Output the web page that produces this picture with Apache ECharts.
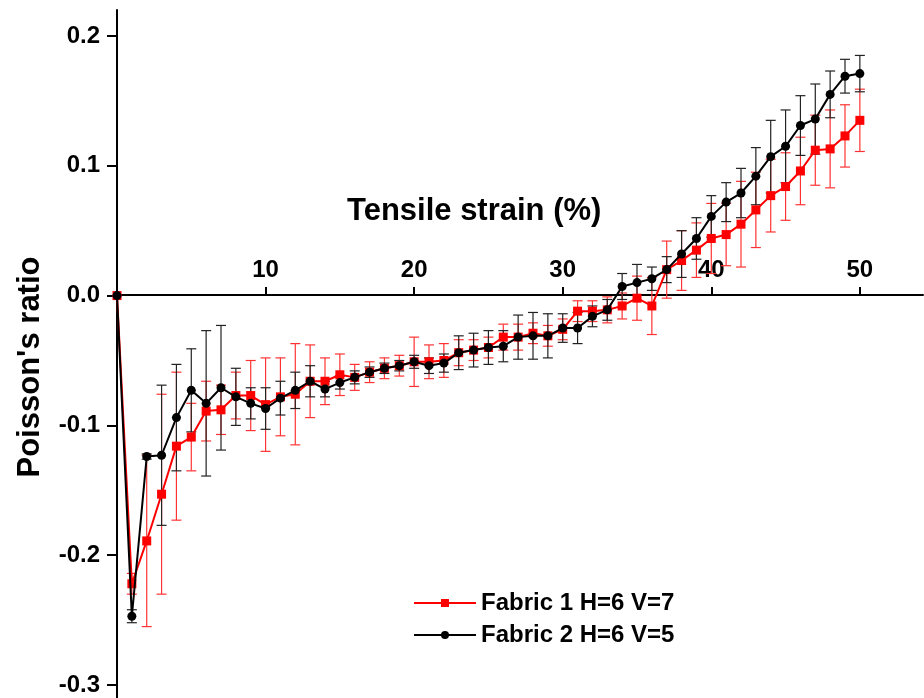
<!DOCTYPE html>
<html>
<head>
<meta charset="utf-8">
<script src="https://cdn.jsdelivr.net/npm/echarts@6/dist/echarts.min.js"></script>
<style>html,body{margin:0;padding:0;background:#fff;}#c{width:924px;height:698px;}</style>
</head>
<body>
<div id="c"></div>
<script>
const strain = Array.from({length: 51}, (_, i) => i);
const xTicks = [10, 20, 30, 40, 50];
const yTicks = [-0.3, -0.2, -0.1, 0.0, 0.1, 0.2];

const fabric1 = [0, -0.222, -0.189, -0.153, -0.116, -0.109, -0.089, -0.088, -0.077, -0.077,
  -0.084, -0.078, -0.076, -0.066, -0.066, -0.061, -0.063, -0.059, -0.056, -0.054,
  -0.051, -0.051, -0.050, -0.044, -0.042, -0.040, -0.032, -0.032, -0.029, -0.031,
  -0.026, -0.012, -0.012, -0.011, -0.008, -0.002, -0.008, 0.020, 0.027, 0.035,
  0.044, 0.047, 0.055, 0.066, 0.077, 0.084, 0.096, 0.112, 0.113, 0.123, 0.135];
const fabric1Err = [0, 0.008, 0.066, 0.077, 0.057, 0.026, 0.023, 0.019, 0.018, 0.027,
  0.036, 0.030, 0.039, 0.028, 0.018, 0.016, 0.010, 0.008, 0.008, 0.008,
  0.019, 0.013, 0.013, 0.010, 0.008, 0.008, 0.010, 0.010, 0.008, 0.008,
  0.008, 0.008, 0.008, 0.010, 0.010, 0.017, 0.022, 0.022, 0.023, 0.021,
  0.027, 0.024, 0.033, 0.029, 0.028, 0.026, 0.026, 0.027, 0.030, 0.024, 0.024];

const fabric2 = [0, -0.247, -0.124, -0.123, -0.094, -0.073, -0.083, -0.071, -0.078, -0.083,
  -0.087, -0.079, -0.073, -0.066, -0.072, -0.067, -0.063, -0.059, -0.056, -0.054,
  -0.051, -0.054, -0.052, -0.044, -0.042, -0.040, -0.039, -0.032, -0.031, -0.031,
  -0.025, -0.025, -0.016, -0.011, 0.007, 0.010, 0.013, 0.020, 0.032, 0.044,
  0.061, 0.072, 0.079, 0.092, 0.107, 0.115, 0.131, 0.136, 0.155, 0.169, 0.171];
const fabric2Err = [0, 0.005, 0.002, 0.054, 0.041, 0.032, 0.056, 0.048, 0.022, 0.012,
  0.016, 0.013, 0.014, 0.012, 0.006, 0.005, 0.005, 0.004, 0.004, 0.004,
  0.005, 0.006, 0.007, 0.013, 0.013, 0.013, 0.012, 0.017, 0.018, 0.017,
  0.011, 0.012, 0.008, 0.008, 0.010, 0.014, 0.009, 0.010, 0.018, 0.016,
  0.016, 0.015, 0.019, 0.022, 0.028, 0.028, 0.023, 0.027, 0.018, 0.013, 0.014];

const names = ['Fabric 1 H=6 V=7', 'Fabric 2 H=6 V=5'];
const FONT = 'Liberation Sans, Arial, sans-serif';

function errData(vals, errs) {
  return strain.map((x, i) => [x, vals[i] - errs[i], vals[i] + errs[i]]);
}
function errSeries(vals, errs, color) {
  return {
    type: 'custom',
    silent: true,
    z: 1,
    data: errData(vals, errs),
    renderItem: function (params, api) {
      const lo = api.coord([api.value(0), api.value(1)]);
      const hi = api.coord([api.value(0), api.value(2)]);
      const hw = 5;
      const style = {stroke: color, lineWidth: 1.2, fill: null};
      return {
        type: 'group',
        children: [
          {type: 'line', shape: {x1: lo[0], y1: lo[1], x2: hi[0], y2: hi[1]}, style: style},
          {type: 'line', shape: {x1: lo[0] - hw, y1: lo[1], x2: lo[0] + hw, y2: lo[1]}, style: style},
          {type: 'line', shape: {x1: hi[0] - hw, y1: hi[1], x2: hi[0] + hw, y2: hi[1]}, style: style}
        ]
      };
    }
  };
}

const chart = echarts.init(document.getElementById('c'), null, {renderer: 'canvas'});
chart.setOption({
  animation: false,
  backgroundColor: '#fff',
  grid: {left: 117, right: 1, top: 10, height: 689},
  xAxis: {
    type: 'value', min: 0, max: 54.25, offset: -403,
    axisLine: {onZero: false, lineStyle: {color: '#000', width: 2}},
    axisTick: {inside: true, length: 8, lineStyle: {color: '#000', width: 2}, customValues: xTicks},
    axisLabel: {inside: true, margin: 13, color: '#000', fontFamily: FONT, fontWeight: 'bold', fontSize: 24, customValues: xTicks},
    splitLine: {show: false}
  },
  yAxis: {
    type: 'value', min: -0.31, max: 0.22,
    axisLine: {show: true, lineStyle: {color: '#000', width: 2}},
    axisTick: {show: true, length: 10, lineStyle: {color: '#000', width: 2}, customValues: yTicks},
    axisLabel: {margin: 17, color: '#000', fontFamily: FONT, fontWeight: 'bold', fontSize: 24,
      customValues: yTicks, formatter: v => v.toFixed(1)},
    splitLine: {show: false}
  },
  legend: {
    orient: 'vertical', left: 408, top: 586, itemWidth: 62, itemHeight: 10, itemGap: 8,
    data: names,
    textStyle: {color: '#000', fontFamily: FONT, fontWeight: 'bold', fontSize: 24}
  },
  graphic: [
    {type: 'text', left: 347, top: 196, style: {text: 'Tensile strain (%)', font: 'bold 31px ' + FONT, fill: '#000'}},
    {type: 'text', x: 30, y: 367, rotation: Math.PI / 2, style: {text: "Poisson's ratio", font: 'bold 31px ' + FONT, fill: '#000', align: 'center', verticalAlign: 'middle'}}
  ],
  series: [
    errSeries(fabric1, fabric1Err, '#ff3333'),
    errSeries(fabric2, fabric2Err, '#222'),
    {
      name: names[0], type: 'line', z: 3,
      data: strain.map((x, i) => [x, fabric1[i]]),
      symbol: 'rect', symbolSize: 9,
      lineStyle: {color: '#ff0000', width: 2},
      itemStyle: {color: '#ff0000'}
    },
    {
      name: names[1], type: 'line', z: 4,
      data: strain.map((x, i) => [x, fabric2[i]]),
      symbol: 'circle', symbolSize: 9,
      lineStyle: {color: '#000', width: 2},
      itemStyle: {color: '#000'}
    }
  ]
});
</script>
</body>
</html>
